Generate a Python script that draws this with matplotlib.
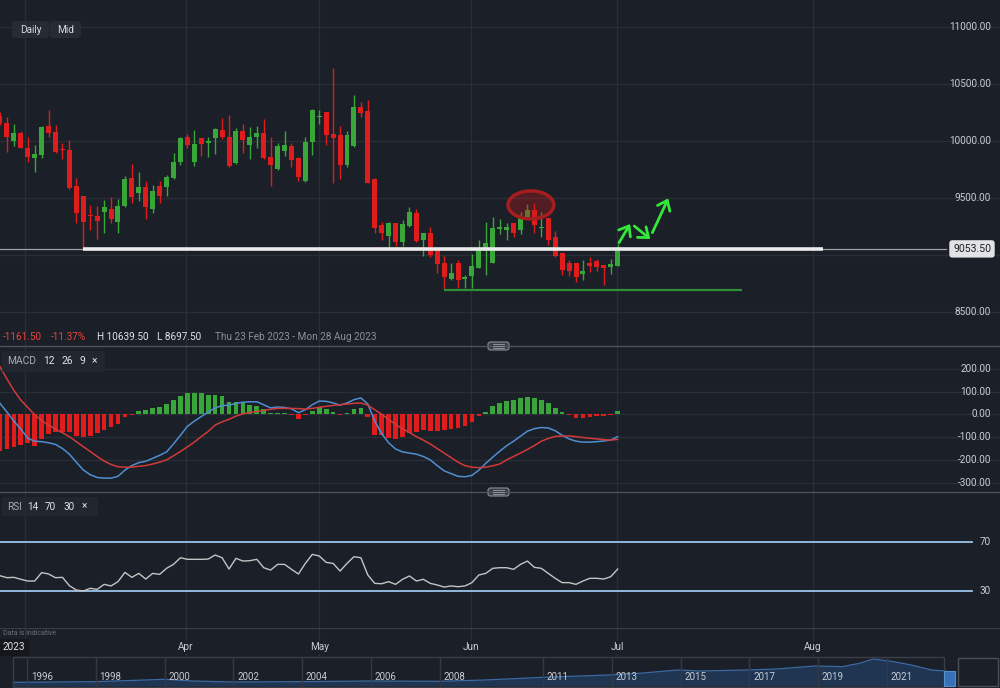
import numpy as np
import matplotlib.pyplot as plt
from matplotlib.patches import Ellipse, FancyBboxPatch, Rectangle
from matplotlib.transforms import blended_transform_factory

plt.rcParams['font.family'] = ['Roboto', 'DejaVu Sans']

# ---------------- data ----------------
# daily candles, 23 Feb 2023 .. 3 Jul 2023 (bar index 0..89)
opens = [10215, 10158, 10000, 10070, 9939, 9851, 9877, 10132, 10079, 9930,
         9921, 9605, 9518, 9351, 9342, 9377, 9404, 9289, 9430, 9675,
         9544, 9596, 9404, 9605, 9596, 9675, 9816, 10035, 9816, 10026,
         9982, 10026, 10096, 10035, 9807, 10088, 9965, 10035, 10070, 9860,
         9754, 9912, 9956, 9851, 9649, 9991, 10211, 10254, 10061, 10053,
         9789, 9956, 10298, 10263, 9667, 9263, 9167, 9281, 9114, 9254,
         9368, 9132, 9193, 9061, 8930, 8789, 8930, 8789, 8816, 8886,
         9061, 8930, 9228, 9219, 9281, 9219, 9333, 9395, 9237, 9325,
         9158, 9018, 8930, 8930, 8833, 8930, 8947, 8912, 8895, 8904]
highs = [10250, 10211, 10149, 10088, 10035, 9965, 10132, 10272, 10140, 9982,
         10009, 9675, 9518, 9439, 9430, 9482, 9509, 9491, 9693, 9798,
         9728, 9649, 9614, 9649, 9702, 9895, 10035, 10061, 10096, 10026,
         10035, 10114, 10202, 10228, 10114, 10149, 10123, 10132, 10193, 10035,
         9982, 10088, 9982, 9860, 10035, 10281, 10272, 10254, 10639.5, 10132,
         10088, 10404, 10342, 10360, 9675, 9289, 9289, 9281, 9307, 9421,
         9404, 9193, 9246, 9061, 8991, 8930, 8956, 8825, 9009, 9132,
         9289, 9333, 9316, 9281, 9281, 9377, 9447, 9456, 9377, 9325,
         9211, 9018, 8956, 8930, 8956, 8982, 8965, 8912, 8965, 9096]
lows = [10140, 9904, 9956, 9939, 9816, 9728, 9851, 10035, 9895, 9842,
        9579, 9281, 9053, 9219, 9140, 9193, 9281, 9193, 9421, 9456,
        9474, 9316, 9368, 9456, 9518, 9667, 9789, 9939, 9781, 9868,
        9860, 9886, 10018, 9772, 9798, 9895, 9842, 9939, 9842, 9605,
        9746, 9868, 9772, 9649, 9640, 9877, 10149, 9965, 9632, 9667,
        9772, 9947, 10211, 9632, 9193, 9132, 9070, 9079, 9079, 9246,
        9114, 8991, 8982, 8842, 8697.5, 8781, 8711, 8711, 8711, 8886,
        8825, 8930, 9184, 9132, 9158, 9184, 9333, 9193, 9158, 9088,
        8982, 8825, 8816, 8763, 8781, 8851, 8860, 8737, 8833, 8904]
closes = [10158, 10035, 10070, 9939, 9860, 9886, 10123, 10070, 9904, 9921,
          9588, 9368, 9289, 9342, 9298, 9421, 9316, 9430, 9667, 9509,
          9596, 9421, 9561, 9518, 9684, 9816, 10026, 9965, 9974, 9974,
          10000, 10105, 10035, 9781, 10088, 10009, 10035, 10070, 9851, 9789,
          9956, 9965, 9833, 9684, 9991, 10272, 10219, 10053, 10026, 9789,
          10053, 10298, 10246, 9632, 9237, 9193, 9281, 9114, 9272, 9377,
          9123, 9193, 9000, 8921, 8807, 8842, 8781, 8807, 8904, 9061,
          9105, 9237, 9246, 9246, 9193, 9333, 9395, 9263, 9246, 9132,
          8991, 8868, 8860, 8807, 8860, 8904, 8895, 8886, 8921, 9053.5]

macd_line = [48, 10, -30, -65, -105, -118, -120, -125, -132, -150,
             -175, -210, -244, -265, -277, -280, -280, -272, -245, -225,
             -212, -206, -193, -180, -165, -130, -92, -53, -30, -10,
             10, 28, 38, 40, 48, 53, 55, 55, 42, 28,
             32, 30, 24, 7, 20, 42, 58, 57, 50, 40,
             50, 64, 72, 45, -30, -85, -125, -152, -165, -170,
             -175, -185, -200, -225, -248, -260, -272, -274, -268, -245,
             -215, -188, -162, -138, -118, -96, -74, -63, -58, -60,
             -72, -92, -108, -118, -122, -122, -120, -117, -113, -98]
signal_line = [209, 155, 105, 62, 30, -2, -28, -47, -65, -81,
               -98, -120, -142, -163, -185, -205, -220, -230, -232, -232,
               -228, -225, -218, -210, -200, -182, -163, -143, -122, -98,
               -75, -47, -33, -22, -8, 2, 8, 12, 17, 22,
               26, 26, 26, 25, 23, 26, 31, 35, 39, 42,
               45, 48, 50, 40, 20, 0, -22, -45, -63, -80,
               -98, -113, -130, -150, -170, -190, -210, -225, -232, -234,
               -232, -226, -218, -200, -185, -170, -154, -137, -118, -106,
               -97, -95, -95, -98, -102, -105, -108, -111, -113, -110]
macd_hist = [-159, -154, -145, -135, -127, -139, -108, -86, -76, -77,
             -76, -95, -101, -95, -83, -69, -57, -41, -10, -2,
             16, 19, 26, 31, 45, 63, 82, 92, 94, 92,
             85, 85, 80, 56, 56, 48, 41, 37, 22, 4,
             4, 4, -2, -19, -5, 16, 31, 22, 12, -2,
             7, 22, 26, -10, -91, -91, -105, -108, -98, -83,
             -79, -69, -72, -72, -71, -66, -60, -50, -34, -9,
             12, 35, 50, 58, 63, 70, 76, 70, 61, 48,
             29, 10, -4, -15, -15, -10, -7, -6, -2, 13]
rsi = [42.4, 40.8, 41.1, 39.5, 38.1, 38.1, 44.9, 43.8, 40.8, 41.1,
       34.3, 30.8, 30.0, 32.2, 31.3, 35.4, 34.1, 37.6, 45.1, 41.1,
       44.3, 39.7, 44.3, 43.5, 48.4, 51.6, 57.0, 55.7, 55.7, 55.7,
       55.9, 59.2, 57.0, 47.8, 56.5, 54.3, 54.6, 55.7, 48.9, 47.0,
       51.6, 51.6, 47.6, 43.8, 52.4, 59.7, 58.4, 53.2, 52.4, 46.2,
       52.4, 57.8, 57.0, 43.0, 36.2, 35.9, 37.6, 35.4, 39.5, 42.2,
       38.1, 39.5, 36.2, 34.9, 33.2, 34.1, 33.5, 34.1, 36.8, 43.0,
       44.3, 48.4, 48.9, 48.9, 47.6, 51.6, 54.3, 49.2, 48.4, 44.3,
       40.3, 36.8, 36.8, 35.4, 38.1, 40.3, 40.3, 39.7, 41.6, 47.8]

price_ticks = [8500, 9000, 9500, 10000, 10500, 11000]
macd_ticks = [-300, -200, -100, 0, 100, 200]
rsi_ticks = [30, 70]
month_labels = ['Apr', 'May', 'Jun', 'Jul', 'Aug']
month_pos = [26.8, 46.0, 67.9, 88.9, 117.1]   # bar index of month start
grid_pos = [3.6] + month_pos                     # 1 Mar has no label

last_price = 9053.5
support_level = 9053.5
support_span = (12, 118.6)
low_level = 8693
low_span = (64, 106.9)
circle_center = (76.5, 9439)
arrows = [((89.2, 9108), (90.8, 9272)),
          ((91.4, 9254), (93.7, 9140)),
          ((94.0, 9196), (96.3, 9497))]

# navigator (long history)
nav_years = [1995.6, 1998.0, 2000.0, 2000.8, 2002.0, 2004.0, 2006.0, 2008.0,
             2009.3, 2011.0, 2012.9, 2013.8, 2014.9, 2015.6, 2016.9, 2017.8,
             2018.9, 2019.7, 2020.2, 2020.6, 2021.2, 2021.7, 2022.3, 2022.7]
nav_level = [2200, 2600, 4000, 3000, 2400, 2600, 3000, 2800, 3600, 5200,
             6600, 7600, 9600, 9000, 9600, 10200, 12000, 11600, 13600, 16200,
             14600, 12600, 9600, 9000]
nav_ticks = [1996, 1998, 2000, 2002, 2004, 2006, 2008, 2011, 2013, 2015,
             2017, 2019, 2021]

# ---------------- styling ----------------
BG = '#1b1f27'
GRID = '#2a2e37'
TXT = '#c9ccd3'
UP = '#38a638'
DOWN = '#e01c1c'
ARROW = '#33e83a'
W, H = 1000, 688
BAR_PX = 6.94
XLIM = (0, W / BAR_PX)

fig = plt.figure(figsize=(W / 100, H / 100), dpi=100, facecolor=BG)


def px_axes(x0, y0, x1, y1):
    ax = fig.add_axes([x0 / W, 1 - y1 / H, (x1 - x0) / W, (y1 - y0) / H])
    ax.set_facecolor(BG)
    for s in ax.spines.values():
        s.set_visible(False)
    ax.tick_params(length=0, labelbottom=False, labelleft=False)
    return ax


def right_labels(ax, ticks, fmt, skip=()):
    tr = blended_transform_factory(ax.transAxes, ax.transData)
    for t in ticks:
        if t in skip:
            continue
        ax.text(0.991, t, fmt.format(t), transform=tr, ha='right',
                va='center', color=TXT, fontsize=7.2, zorder=6)


idx = np.arange(len(opens))
o, h, l, c = map(np.array, (opens, highs, lows, closes))
cols = np.where(c >= o, UP, DOWN)

# ---- price panel ----
ax = px_axes(0, 0, W, 346)
ax.set_xlim(*XLIM)
ax.set_ylim(8201.7, 11236.8)
ax.set_xticks(grid_pos)
ax.set_yticks(price_ticks)
ax.grid(color=GRID, lw=1)
ax.set_axisbelow(True)

ax.vlines(idx, l, h, colors=cols, lw=1, zorder=2)
body_h = np.maximum(np.abs(c - o), 9)
body_lo = np.minimum(o, c) - (body_h - np.abs(c - o)) / 2
ax.bar(idx, body_h, bottom=body_lo, width=0.72, color=cols, lw=0, zorder=3)

ax.axhline(last_price, xmax=0.946, color='#9da1a8', lw=0.9, zorder=4)
ax.hlines(support_level, *support_span, color='#ebebeb', lw=2.6, zorder=5)
ax.hlines(low_level, *low_span, color='#2f8f36', lw=1.6, zorder=5)
ax.add_patch(Ellipse(circle_center, 6.6, 246, fc=(0.72, 0.1, 0.1, 0.35),
                     ec='#a51d1d', lw=2.5, zorder=6))
for tail, tip in arrows:
    ax.annotate('', xy=tip, xytext=tail,
                arrowprops=dict(arrowstyle='->,head_length=0.45,head_width=0.35',
                                color=ARROW, lw=2, mutation_scale=14,
                                shrinkA=0, shrinkB=0), zorder=7)

# the 9000.00 label sits under the last-price tag in the reference
right_labels(ax, price_ticks, '{:.2f}', skip=(9000,))
tr = blended_transform_factory(ax.transAxes, ax.transData)
ax.text(0.991, last_price, f'{last_price:.2f}', transform=tr, ha='right',
        va='center', color='#1b1f27', fontsize=7.6, zorder=9,
        bbox=dict(boxstyle='round,pad=0.35,rounding_size=0.3', fc='#e2e3e5', ec='none'))

# ---- MACD panel ----
axm = px_axes(0, 346, W, 492)
axm.set_xlim(*XLIM)
axm.set_ylim(-340.8, 299.6)
axm.set_xticks(grid_pos)
axm.set_yticks(macd_ticks)
axm.grid(color=GRID, lw=1)
axm.set_axisbelow(True)
hist = np.array(macd_hist)
axm.bar(idx, hist, width=0.68, color=np.where(hist >= 0, UP, DOWN), lw=0, zorder=2)
axm.plot(idx, macd_line, color='#4f8fd1', lw=1.1, zorder=3)
axm.plot(idx, signal_line, color='#d23a3a', lw=1.1, zorder=3)
right_labels(axm, macd_ticks, '{:.2f}')

# ---- RSI panel ----
axr = px_axes(0, 492, W, 628)
axr.set_xlim(*XLIM)
axr.set_ylim(0, 110.3)
axr.set_xticks(grid_pos)
axr.set_yticks([])
axr.grid(axis='x', color=GRID, lw=1)
axr.set_axisbelow(True)
for lv in rsi_ticks:
    axr.axhline(lv, xmax=0.972, color='#9cc2ea', lw=1.3, zorder=2)
axr.plot(idx, rsi, color='#c4c4c4', lw=1, zorder=3)
right_labels(axr, rsi_ticks, '{:d}')

# ---- date row ----
axd = px_axes(0, 628, W, 657)
axd.set_xlim(*XLIM)
axd.set_ylim(0, 1)
axd.set_xticks(grid_pos)
axd.set_yticks([])
axd.grid(axis='x', color=GRID, lw=1)
axd.axhline(1, color='#393d46', lw=1)
for p, lab in zip(month_pos, month_labels):
    axd.text(p, 0.34, lab, ha='center', va='center', color=TXT, fontsize=7.2,
             bbox=dict(boxstyle='square,pad=0.15', fc=BG, ec='none'))

# ---- navigator ----
yr0 = 1996 - 27 / 34.4
axn = px_axes(0, 657, W, 688)
axn.set_xlim(yr0, yr0 + W / 34.4)
axn.set_ylim(-1200, 17400)
axn.fill_between(nav_years, nav_level, 0, color='#1f3552', lw=0, zorder=1)
axn.plot(nav_years, nav_level, color='#3b6aa3', lw=0.9, zorder=2)
axn.vlines(nav_ticks, -1200, 17400, color='#353943', lw=1, zorder=3)
for yv in nav_ticks:
    axn.text(yv + 0.11, 5400, str(yv), ha='left', va='center', color=TXT,
             fontsize=7, zorder=4)

# ---- decorations in pixel space ----
ov = fig.add_axes([0, 0, 1, 1])
ov.set_xlim(0, W)
ov.set_ylim(H, 0)
ov.axis('off')
ov.patch.set_visible(False)

for y in (346, 492):
    ov.plot([0, W], [y, y], color='#4e525b', lw=1)
    ov.add_patch(FancyBboxPatch((488, y - 4), 21, 8, boxstyle='round,pad=0,rounding_size=2.5',
                                fc='#3a3e46', ec='#8b8f97', lw=0.8))
    for dy in (-1.8, 0, 1.8):
        ov.plot([493, 504], [y + dy, y + dy], color='#9a9ea6', lw=0.6)

# timeframe buttons
for (x0, wd, lab) in ((12, 37, 'Daily'), (50, 31, 'Mid')):
    ov.add_patch(FancyBboxPatch((x0, 21), wd, 17, boxstyle='round,pad=0,rounding_size=3',
                                fc='#272b34', ec='none'))
    ov.text(x0 + wd / 2, 29.8, lab, ha='center', va='center', color='#d6d8dc', fontsize=7.2)

# summary line
for x, s, col in ((3, '-1161.50', '#e8433a'), (51, '-11.37%', '#e8433a'),
                  (97, 'H 10639.50', '#e4e4e4'), (157, 'L 8697.50', '#e4e4e4'),
                  (215, 'Thu 23 Feb 2023 - Mon 28 Aug 2023', '#8b8f97')):
    ov.text(x, 337.5, s, ha='left', va='center', color=col, fontsize=7.2)

# indicator legends
ov.add_patch(FancyBboxPatch((2, 351), 103, 21, boxstyle='round,pad=0,rounding_size=2',
                            fc='#22262e', ec='none'))
for x, s, col in ((7, 'MACD', '#a9adb5'), (43, '12', '#e4e4e4'), (62, '26', '#e4e4e4'),
                  (79, '9', '#e4e4e4'), (92, '×', '#e4e4e4')):
    ov.text(x, 361.5, s, ha='left', va='center', color=col, fontsize=7.4)
ov.add_patch(FancyBboxPatch((2, 497), 96, 19, boxstyle='round,pad=0,rounding_size=2',
                            fc='#22262e', ec='none'))
for x, s, col in ((7, 'RSI', '#a9adb5'), (27, '14', '#e4e4e4'), (45, '70', '#e4e4e4'),
                  (64, '30', '#e4e4e4'), (82, '×', '#e4e4e4')):
    ov.text(x, 506.5, s, ha='left', va='center', color=col, fontsize=7.2)

ov.text(3, 633.5, 'Data is indicative', ha='left', va='center', color='#6b7079', fontsize=5)
ov.add_patch(Rectangle((0, 639), 29, 17, fc='#14171c', ec='none'))
ov.text(3, 647.5, '2023', ha='left', va='center', color='#e4e4e4', fontsize=7.2)

# navigator frame
ov.add_patch(Rectangle((13, 657), 931, 30, fc='none', ec='#3a3e47', lw=1))
ov.add_patch(Rectangle((944, 671), 11, 15, fc='#3c7fd0', ec='#5a9ae0', lw=0.8, alpha=0.85))
ov.add_patch(Rectangle((958, 658), 40, 28, fc='none', ec='#4a4e57', lw=1))

fig.savefig('out.png', dpi=100, facecolor=BG)
